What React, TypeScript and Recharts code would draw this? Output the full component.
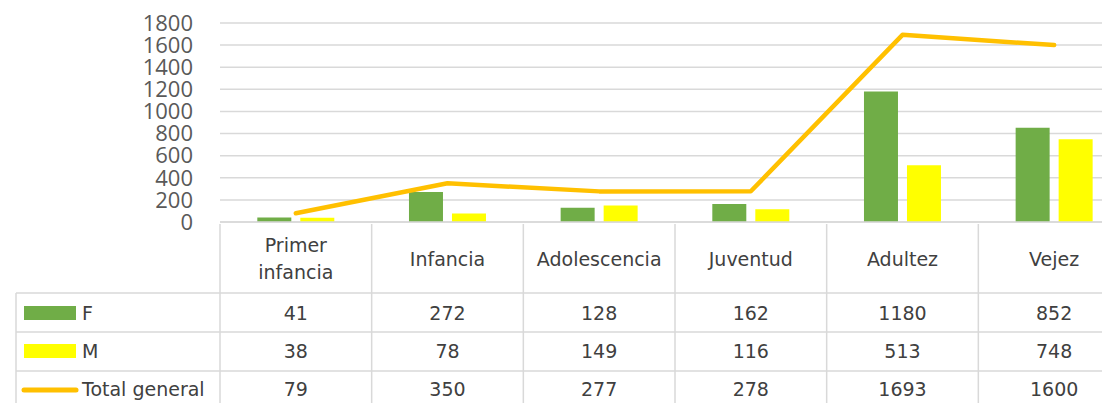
import React from "react";
import { ComposedChart, Bar, Line, XAxis, YAxis, CartesianGrid } from "recharts";

const categories = ["Primer infancia", "Infancia", "Adolescencia", "Juventud", "Adultez", "Vejez"];
const femValues = [41, 272, 128, 162, 1180, 852];
const mascValues = [38, 78, 149, 116, 513, 748];
const totalValues = [79, 350, 277, 278, 1693, 1600];
const yTicks = [0, 200, 400, 600, 800, 1000, 1200, 1400, 1600, 1800];
const seriesNames = ["F", "M", "Total general"];

const GREEN = "#70AD47";
const YELLOW = "#FFFF00";
const ORANGE = "#FFC000";
const GRID = "#D9D9D9";
const TEXT = "#404040";
const FONT = "'Comic Sans MS', 'DejaVu Sans', sans-serif";

const CHART_W = 1122;
const CHART_H = 395;
const Y_W = 212;
const BAND = (CHART_W - Y_W) / categories.length;

const data = categories.map((name, i) => ({
  name,
  F: femValues[i],
  M: mascValues[i],
  total: totalValues[i],
}));

// row offsets below the x axis line
const ROW_LINES = [69, 108, 147];
const ROW_CENTERS = [89, 127, 165];

function TableTick(props: any) {
  const { x, y, payload } = props;
  const i = payload.index;
  const half = BAND / 2;
  const vals = [femValues[i], mascValues[i], totalValues[i]];
  const words = String(payload.value).split(" ");
  const left = x - half;
  const txt = { fill: TEXT, fontSize: 19, fontFamily: FONT };

  return (
    <g>
      <line x1={x + half} y1={y} x2={x + half} y2={y + 200} stroke={GRID} strokeWidth={1.5} />
      {ROW_LINES.map((dy) => (
        <line key={dy} x1={left} y1={y + dy} x2={x + half} y2={y + dy} stroke={GRID} strokeWidth={1.5} />
      ))}
      {words.length > 1 ? (
        words.map((w, k) => (
          <text key={k} x={x} y={y + 21 + k * 27} textAnchor="middle" dominantBaseline="central" {...txt}>
            {w}
          </text>
        ))
      ) : (
        <text x={x} y={y + 35} textAnchor="middle" dominantBaseline="central" {...txt}>
          {payload.value}
        </text>
      )}
      {vals.map((v, k) => (
        <text key={k} x={x} y={y + ROW_CENTERS[k]} textAnchor="middle" dominantBaseline="central" {...txt}>
          {v}
        </text>
      ))}
      {i === 0 && (
        <g>
          <line x1={left} y1={y} x2={left} y2={y + 200} stroke={GRID} strokeWidth={1.5} />
          <line x1={8} y1={y + ROW_LINES[0]} x2={8} y2={y + 200} stroke={GRID} strokeWidth={1.5} />
          {ROW_LINES.map((dy) => (
            <line key={dy} x1={8} y1={y + dy} x2={left} y2={y + dy} stroke={GRID} strokeWidth={1.5} />
          ))}
          <rect x={16} y={y + ROW_CENTERS[0] - 7} width={52} height={14} fill={GREEN} />
          <rect x={16} y={y + ROW_CENTERS[1] - 7} width={52} height={14} fill={YELLOW} />
          <line x1={16} y1={y + ROW_CENTERS[2] + 1} x2={68} y2={y + ROW_CENTERS[2] + 1} stroke={ORANGE} strokeWidth={5} strokeLinecap="round" />
          {seriesNames.map((s, k) => (
            <text key={s} x={74} y={y + ROW_CENTERS[k]} dominantBaseline="central" {...txt}>
              {s}
            </text>
          ))}
        </g>
      )}
    </g>
  );
}

export default function App() {
  return (
    <div style={{ width: 1102, height: CHART_H, overflow: "hidden", background: "#fff" }}>
      <ComposedChart
        width={CHART_W}
        height={CHART_H}
        data={data}
        margin={{ top: 15, right: 0, bottom: 0, left: 0 }}
        barCategoryGap="24.6%"
        barGap={9}
      >
        <CartesianGrid vertical={false} stroke={GRID} strokeWidth={1.5} />
        <XAxis
          dataKey="name"
          height={181}
          interval={0}
          tickLine={false}
          tickSize={0}
          axisLine={{ stroke: GRID, strokeWidth: 1.5 }}
          tick={(p: any) => <TableTick {...p} />}
        />
        <YAxis
          width={Y_W}
          domain={[0, 1800]}
          ticks={yTicks}
          interval={0}
          axisLine={false}
          tickLine={false}
          tickSize={0}
          tickMargin={27}
          tick={{ fill: "#595959", fontSize: 22, fontFamily: "'Open Sans', sans-serif" }}
        />
        <Bar dataKey="F" fill={GREEN} isAnimationActive={false} />
        <Bar dataKey="M" fill={YELLOW} isAnimationActive={false} />
        <Line
          dataKey="total"
          stroke={ORANGE}
          strokeWidth={4.5}
          strokeLinecap="round"
          strokeLinejoin="round"
          dot={false}
          activeDot={false}
          isAnimationActive={false}
        />
      </ComposedChart>
    </div>
  );
}
